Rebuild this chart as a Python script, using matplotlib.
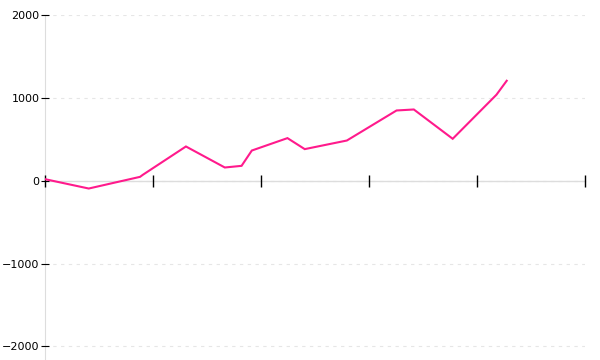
import matplotlib
matplotlib.use("Agg")
import matplotlib.pyplot as plt

# values
x_vals = [0, 8.1, 17.6, 18.1, 26.1, 33.3, 36.4, 38.3, 44.9, 48.1, 55.9, 65.1, 68.3, 75.5, 83.6, 85.5]
y_vals = [20, -93, 48, 72, 415, 161, 181, 366, 516, 383, 487, 850, 862, 508, 1040, 1209]
y_ticks = [-2000, -1000, 0, 1000, 2000]
x_ticks = [0, 20, 40, 60, 80, 100]

fig = plt.figure(figsize=(6, 3.6), dpi=100)
ax = fig.add_axes([0.075, 0.0, 0.9, 0.9575])

ax.plot(x_vals, y_vals, color="#ff1a8c", linewidth=1.5, solid_joinstyle="miter", zorder=3)

ax.set_xlim(0, 100)
ax.set_ylim(-2165, 2000)
ax.set_yticks(y_ticks)
ax.set_yticklabels([str(v).replace("-", "\u2212") for v in y_ticks])
ax.set_xticks(x_ticks)
ax.set_xticklabels([])

for v in y_ticks:
    ax.axhline(v, color="#e6e6e6", linewidth=0.8, dashes=(3, 4), zorder=0)

for side in ["top", "right"]:
    ax.spines[side].set_visible(False)
ax.spines["left"].set_color("#dddddd")
ax.spines["left"].set_zorder(1)
ax.spines["bottom"].set_color("#dddddd")
ax.spines["bottom"].set_zorder(1)
ax.spines["bottom"].set_position(("data", 0))
ax.spines["bottom"].set_linewidth(1.0)

ax.tick_params(axis="y", length=6, width=0.8, color="black", labelsize=8, pad=1, direction="inout")
ax.tick_params(axis="x", length=8, width=1.0, color="black", direction="inout")
ax.xaxis.set_zorder(2)
ax.yaxis.set_zorder(2)

fig.savefig("out.png", dpi=100)
